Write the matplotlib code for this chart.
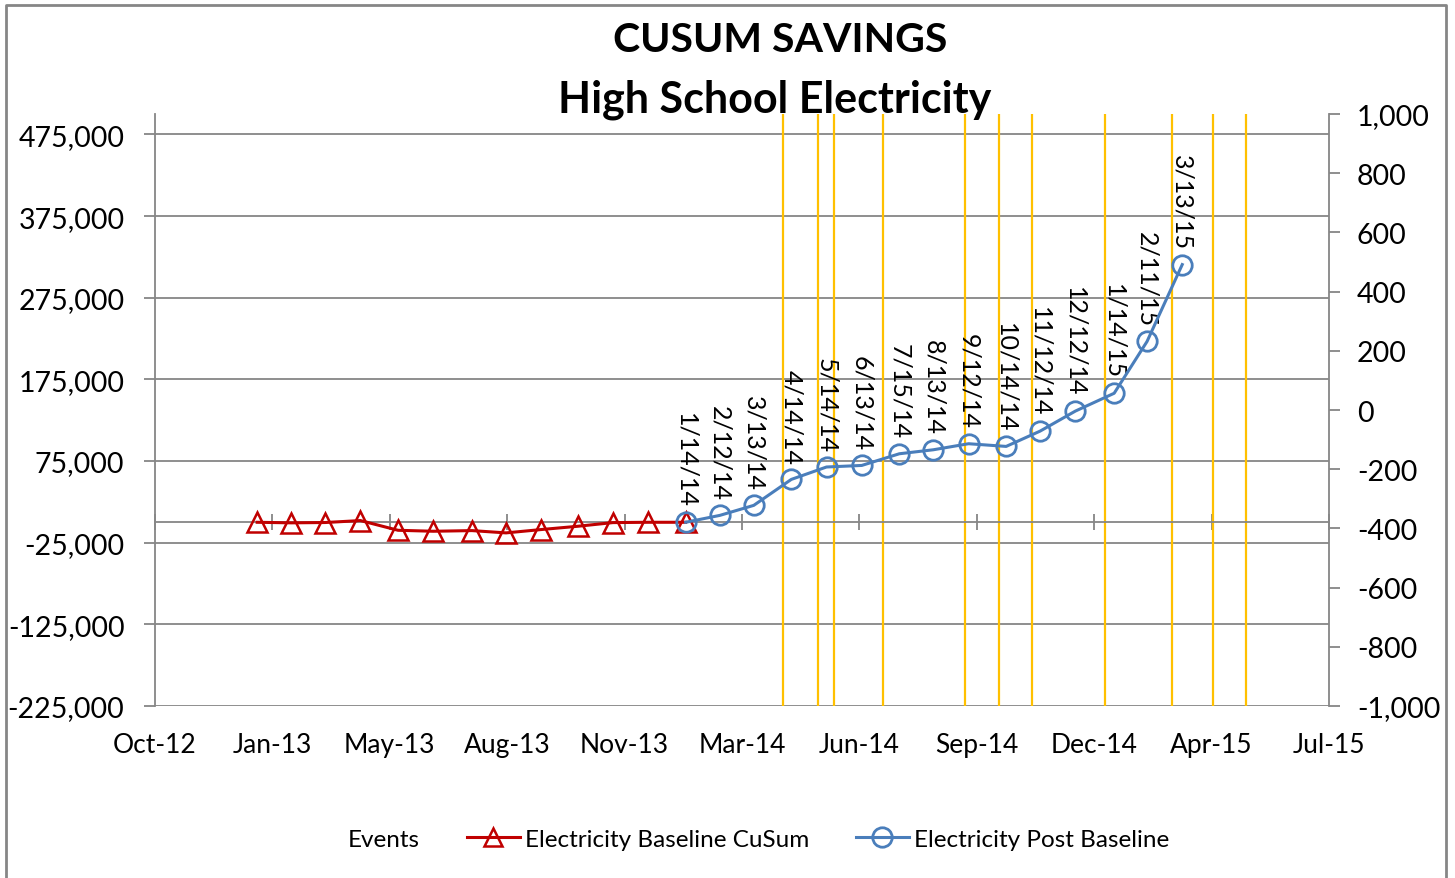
import datetime as dt
import numpy as np
import matplotlib.pyplot as plt
import matplotlib.dates as mdates
from matplotlib.lines import Line2D
from matplotlib.ticker import FuncFormatter, FixedLocator

plt.rcParams['font.family'] = ['Lato', 'DejaVu Sans']

# --- datos ---
base_fechas = ["2013-01-14", "2013-02-12", "2013-03-13", "2013-04-12", "2013-05-14",
               "2013-06-13", "2013-07-16", "2013-08-14", "2013-09-13", "2013-10-14",
               "2013-11-13", "2013-12-13", "2014-01-14"]
base_cusum = [0, -700, -300, 2100, -9800, -11000, -10200, -13000, -8900, -4900, -400, 0, 0]

post_fechas = ["2014-01-14", "2014-02-12", "2014-03-13", "2014-04-14", "2014-05-14",
               "2014-06-13", "2014-07-15", "2014-08-13", "2014-09-12", "2014-10-14",
               "2014-11-12", "2014-12-12", "2015-01-14", "2015-02-11", "2015-03-13"]
post_cusum = [0, 8400, 20700, 52500, 67700, 69600, 83900, 88800, 96200, 92900,
              111700, 136200, 158000, 221400, 315600]
post_etiquetas = ["1/14/14", "2/12/14", "3/13/14", "4/14/14", "5/14/14", "6/13/14",
                  "7/15/14", "8/13/14", "9/12/14", "10/14/14", "11/12/14", "12/12/14",
                  "1/14/15", "2/11/15", "3/13/15"]

eventos = ["2014-04-07", "2014-05-07", "2014-05-20", "2014-07-01", "2014-09-09",
           "2014-10-08", "2014-11-05", "2015-01-06", "2015-03-04", "2015-04-08",
           "2015-05-06"]

inicio_eje = dt.date(2012, 10, 19)
paso_dias = 100

rojo = "#C00000"
azul = "#4A7EBB"
oro = "#FFC000"
gris = "#868686"

def a_fecha(lista):
    return [dt.datetime.strptime(s, "%Y-%m-%d") for s in lista]

fig = plt.figure(figsize=(14.55, 8.79), dpi=100)
ax = fig.add_axes([155 / 1455, 1 - 707 / 879, (1329 - 155) / 1455, (707 - 115) / 879])

xmin = mdates.date2num(inicio_eje)
ticks_x = [xmin + i * paso_dias for i in range(11)]
ax.set_xlim(ticks_x[0], ticks_x[-1])
ax.set_ylim(-225000, 500000)
ax.yaxis.set_major_locator(FixedLocator(np.arange(-225000, 475001, 100000)))
ax.yaxis.set_major_formatter(FuncFormatter(lambda v, p: f"{v:,.0f}"))
ax.grid(True, axis='y', color=gris, linewidth=1.3)
ax.set_axisbelow(True)

# eventos (lineas verticales)
for f in a_fecha(eventos):
    ax.axvline(f, color=oro, linewidth=1.6, zorder=1)

# eje horizontal en cero con marcas
ax.xaxis.set_major_locator(FixedLocator(ticks_x))
ax.spines['bottom'].set_position(('data', 0))
ax.spines['bottom'].set_color(gris)
ax.spines['bottom'].set_linewidth(1.3)
ax.tick_params(axis='x', direction='inout', length=12, width=1.3, color=gris,
               labelbottom=False)
ax.spines['top'].set_visible(False)
ax.spines['right'].set_visible(False)
ax.spines['left'].set_color(gris)
ax.spines['left'].set_linewidth(1.3)
ax.tick_params(axis='y', direction='out', length=8, width=1.3, color=gris,
               labelsize=20.5, pad=14)

# etiquetas de fecha abajo del area
sec = ax.secondary_xaxis(0.0)
sec.xaxis.set_major_locator(FixedLocator(ticks_x))
sec.xaxis.set_major_formatter(mdates.DateFormatter('%b-%y'))
sec.tick_params(axis='x', length=0, labelsize=19, pad=19)
sec.spines['bottom'].set_visible(False)

# series
ax.plot(a_fecha(base_fechas), base_cusum, color=rojo, linewidth=2.2,
        marker='^', markersize=14, markerfacecolor='none', markeredgecolor=rojo,
        markeredgewidth=1.8, zorder=3)
ax.plot(a_fecha(post_fechas), post_cusum, color=azul, linewidth=2.2,
        marker='o', markersize=14, markerfacecolor='none', markeredgecolor=azul,
        markeredgewidth=2, zorder=4)

for f, v, t in zip(a_fecha(post_fechas), post_cusum, post_etiquetas):
    ax.annotate(t, (f, v), xytext=(0, 11), textcoords='offset points',
                rotation=270, ha='center', va='bottom', fontsize=18)

# eje secundario
ax2 = ax.twinx()
ax2.set_ylim(-1000, 1000)
ax2.yaxis.set_major_locator(FixedLocator(np.arange(-1000, 1001, 200)))
ax2.yaxis.set_major_formatter(FuncFormatter(lambda v, p: f"{v:,.0f}"))
for s in ['top', 'left', 'bottom']:
    ax2.spines[s].set_visible(False)
ax2.spines['right'].set_color(gris)
ax2.spines['right'].set_linewidth(1.3)
ax2.tick_params(axis='y', direction='out', length=8, width=1.3, color=gris,
                labelsize=20.5, pad=12)

fig.text(780 / 1455, 1 - 41 / 879, "CUSUM SAVINGS", ha='center', va='center',
         fontsize=29.5, fontweight='bold')
fig.text(775 / 1455, 1 - 100 / 879, "High School Electricity", ha='center', va='center',
         fontsize=31, fontweight='bold')

# leyenda
handles = [Line2D([], [], linestyle='none'),
           Line2D([], [], color=rojo, linewidth=2.2, marker='^', markersize=13,
                  markerfacecolor='none', markeredgewidth=1.8),
           Line2D([], [], color=azul, linewidth=2.2, marker='o', markersize=14,
                  markerfacecolor='none', markeredgewidth=2)]
fig.legend(handles, ["Events", "Electricity Baseline CuSum", "Electricity Post Baseline"],
           loc='center', bbox_to_anchor=(0.5014, 1 - 840 / 879), ncol=3, frameon=False,
           fontsize=17.5, handlelength=2.18, columnspacing=1.93, handletextpad=0.2)

# marco del grafico
fig.add_artist(Line2D([6 / 1455, 6 / 1455, 1446 / 1455, 1446 / 1455],
                      [0, 1 - 6 / 879, 1 - 6 / 879, 0],
                      transform=fig.transFigure, color=gris, linewidth=2))

fig.savefig("out.png", dpi=100)
